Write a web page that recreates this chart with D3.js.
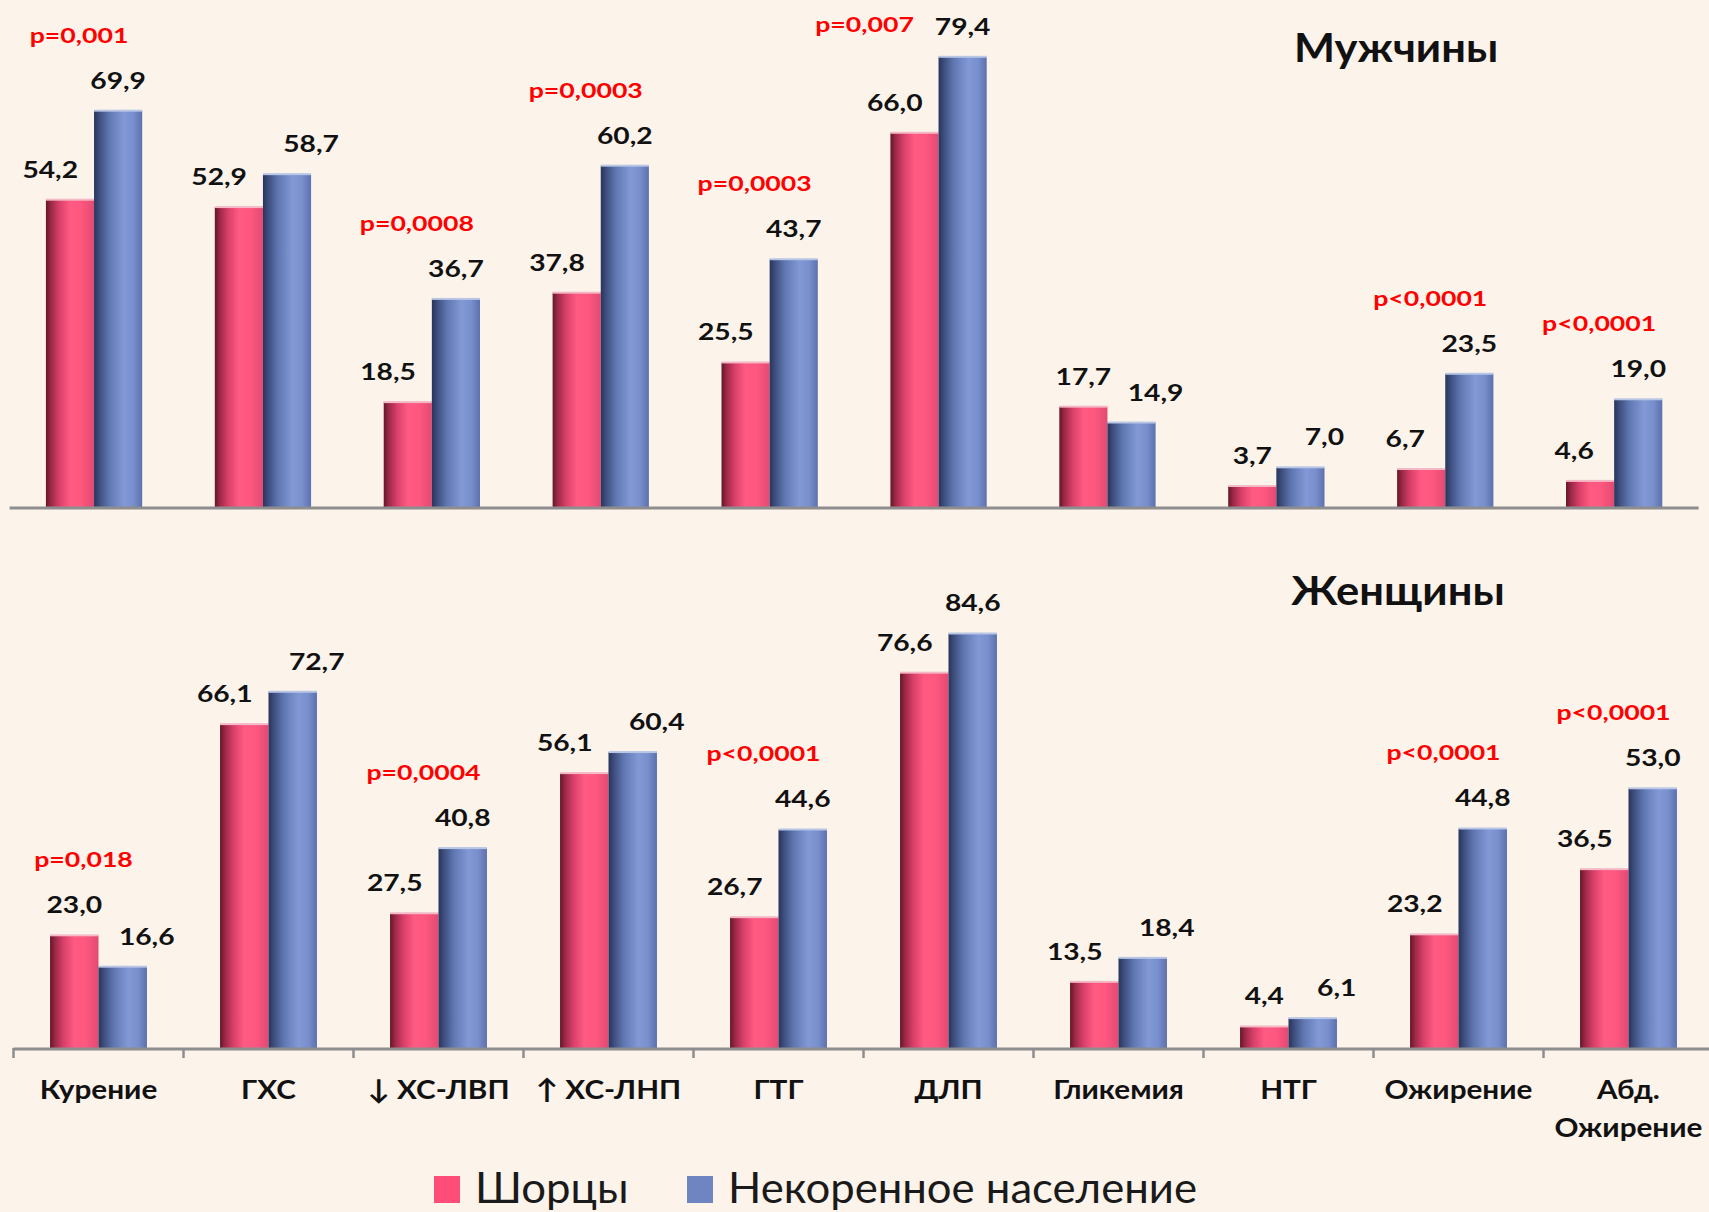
<!DOCTYPE html>
<html>
<head>
<meta charset="utf-8">
<script src="https://cdn.jsdelivr.net/npm/d3@7/dist/d3.min.js"></script>
<style>
  html, body { margin: 0; padding: 0; background: #fcf3eb; }
  svg { display: block; }
</style>
</head>
<body>
<svg id="chart" width="1709" height="1212"></svg>
<script>
// Risk factor prevalence (%) in Shor and non-native population
const categories = ["Курение", "ГХС", "↓ ХС-ЛВП", "↑ ХС-ЛНП", "ГТГ", "ДЛП", "Гликемия", "НТГ", "Ожирение", "Абд.\nОжирение"];
const seriesNames = ["Шорцы", "Некоренное население"];
const panelTitles = ["Мужчины", "Женщины"];

const menShor       = [54.2, 52.9, 18.5, 37.8, 25.5, 66.0, 17.7, 3.7, 6.7, 4.6];
const menNonNative  = [69.9, 58.7, 36.7, 60.2, 43.7, 79.4, 14.9, 7.0, 23.5, 19.0];
const womenShor      = [23.0, 66.1, 27.5, 56.1, 26.7, 76.6, 13.5, 4.4, 23.2, 36.5];
const womenNonNative = [16.6, 72.7, 40.8, 60.4, 44.6, 84.6, 18.4, 6.1, 44.8, 53.0];

const menP   = ["p=0,001", "", "p=0,0008", "p=0,0003", "p=0,0003", "p=0,007", "", "", "p<0,0001", "p<0,0001"];
const womenP = ["p=0,018", "", "p=0,0004", "", "p<0,0001", "", "", "", "p<0,0001", "p<0,0001"];

const W = 1709, H = 1212;
const FONT = "Lato, 'Open Sans', 'DejaVu Sans', sans-serif";
const SX = 1.2; // horizontal stretch applied to chart text

const svg = d3.select("#chart");
const defs = svg.append("defs");

function gradient(id, stops) {
  const g = defs.append("linearGradient").attr("id", id)
    .attr("x1", "0%").attr("x2", "100%").attr("y1", "0%").attr("y2", "0%");
  stops.forEach(([o, c]) => g.append("stop").attr("offset", o).attr("stop-color", c));
}
gradient("gPink", [["0%", "#651629"], ["10%", "#9a2846"], ["28%", "#d9406a"], ["50%", "#ff5a82"], ["72%", "#ff5880"], ["100%", "#e24a72"]]);
gradient("gBlue", [["0%", "#28355a"], ["12%", "#3f5080"], ["32%", "#6078b2"], ["62%", "#8299d6"], ["82%", "#788fcd"], ["100%", "#5c70ac"]]);
const fills = ["url(#gPink)", "url(#gBlue)"];
const topEdge = ["#f4b9c6", "#b9c6e6"];
const legendColors = ["#ff4d79", "#6f85c1"];

const fmt = v => v.toFixed(1).replace(".", ",");

function stretchedText(g, x, y, str, opts) {
  return g.append("text")
    .attr("transform", `translate(${x},${y}) scale(${opts.sx || SX},1)`)
    .attr("text-anchor", opts.anchor || "middle")
    .attr("font-family", FONT)
    .attr("font-weight", opts.weight || 700)
    .attr("font-size", opts.size)
    .attr("fill", opts.fill || "#111")
    .text(str);
}

const panels = [
  { title: panelTitles[0], series: [menShor, menNonNative], p: menP,
    base: 507, top: 53.4, maxV: 80, range: [9.6, 1698.6], ticks: false,
    titleX: 1396, titleY: 62 },
  { title: panelTitles[1], series: [womenShor, womenNonNative], p: womenP,
    base: 1048, top: 607, maxV: 90, range: [13.5, 1713.5], ticks: true,
    titleX: 1398, titleY: 605 }
];

panels.forEach(panel => {
  const g = svg.append("g");
  const pad = 0.43;
  const x = d3.scaleBand().domain(categories).range(panel.range)
    .paddingInner(pad).paddingOuter(pad / 2);
  const xs = d3.scaleBand().domain([0, 1]).range([0, x.bandwidth()]);
  const y = d3.scaleLinear().domain([0, panel.maxV]).range([panel.base, panel.top]);
  const bw = xs.bandwidth();

  // bars
  panel.series.forEach((vals, s) => {
    g.selectAll(null).data(vals).enter().append("rect")
      .attr("x", (d, i) => x(categories[i]) + xs(s))
      .attr("y", d => y(d))
      .attr("width", bw)
      .attr("height", d => y(0) - y(d))
      .attr("fill", fills[s]);
    g.selectAll(null).data(vals).enter().append("rect")
      .attr("x", (d, i) => x(categories[i]) + xs(s))
      .attr("y", d => y(d) - 1)
      .attr("width", bw)
      .attr("height", 2)
      .attr("fill", topEdge[s]);
  });

  // axis line
  const step = x.step();
  const r0 = panel.range[0];
  g.append("line")
    .attr("x1", r0).attr("x2", Math.min(panel.range[1], W))
    .attr("y1", y(0) + 1).attr("y2", y(0) + 1)
    .attr("stroke", "#8e8e8e").attr("stroke-width", 3);
  if (panel.ticks) {
    d3.range(categories.length + 1).forEach(i => {
      const tx = r0 + i * step;
      g.append("line").attr("x1", tx).attr("x2", tx)
        .attr("y1", y(0)).attr("y2", y(0) + 10)
        .attr("stroke", "#8e8e8e").attr("stroke-width", 2.5);
    });
  }

  // value labels
  const valSize = 23.5;
  panel.series.forEach((vals, s) => {
    const other = panel.series[1 - s];
    vals.forEach((v, i) => {
      const cx = x(categories[i]) + xs(s) + bw / 2;
      const ly = y(v) - 22;
      const t = stretchedText(g, cx, ly, fmt(v), { size: valSize });
      const w = t.node().getComputedTextLength() * SX;
      const yo = y(other[i]);
      let dx = 0;
      if (s === 0 && yo < ly + 4 && (w > bw || yo < ly - 20)) {
        // neighbouring bar rises past the label: move it to the left
        dx = -(Math.max(0, w / 2 - bw / 2) + 16);
      } else if (s === 1 && Math.abs(yo - y(v)) < 36) {
        // bars of similar height: push the second label outward
        dx = 24;
      }
      t.attr("transform", `translate(${cx + dx},${ly}) scale(${SX},1)`);
    });
  });

  // significance labels
  panel.p.forEach((p, i) => {
    if (!p) return;
    const maxV = Math.max(panel.series[0][i], panel.series[1][i]);
    const c = x(categories[i]) + x.bandwidth() / 2;
    let py = y(maxV) - 68, px = c - 15;
    if (py < 34) { py = 32; px = c - 74; }
    stretchedText(g, px, py, p, { size: 21.5, sx: 1.24, fill: "#ff0000" });
  });

  // panel title
  stretchedText(g, panel.titleX, panel.titleY, panel.title, { size: 41, sx: 1.06 });

  // category labels
  if (panel.ticks) {
    categories.forEach(cat => {
      const lines = cat.split("\n");
      lines.forEach((ln, j) => {
        stretchedText(g, x(cat) + x.bandwidth() / 2, y(0) + 51 + j * 37.5, ln, { size: 27.5, sx: 1.08 });
      });
    });
  }
});

// legend
const leg = svg.append("g");
const legX = [434, 687];
seriesNames.forEach((name, s) => {
  leg.append("rect").attr("x", legX[s]).attr("y", 1176).attr("width", 26).attr("height", 27)
    .attr("fill", legendColors[s]);
  stretchedText(leg, legX[s] + 41, 1203, name, { size: 42, weight: 400, anchor: "start", sx: 1.04, fill: "#1a1a1a" });
});
</script>
</body>
</html>
